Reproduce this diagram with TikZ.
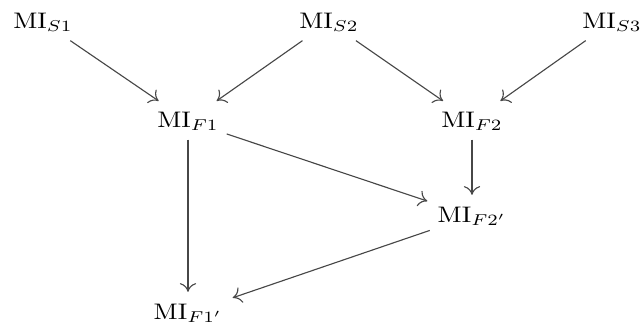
\documentclass[tikz,border=0pt]{standalone}
\usepackage{graphicx}
\usetikzlibrary{arrows.meta}
\begin{document}
\begin{tikzpicture}[x=0.4pt,y=-0.4pt,
  mi/.style={inner xsep=3pt,inner ysep=3.5pt,anchor=base},
  arr/.style={-{To[length=3.5pt,width=6.5pt]},draw=black!72,line width=0.45pt,shorten >=1pt}]
\useasboundingbox (0,0) rectangle (644,335);
\newcommand{\milabel}[1]{\scalebox{1.05}[0.9]{$\mathrm{MI}_{#1}$}}
\node[mi] (s1) at (43,28) {\milabel{S1}};
\node[mi] (s2) at (329,28) {\milabel{S2}};
\node[mi] (s3) at (612,28) {\milabel{S3}};
\node[mi] (f1) at (188,127) {\milabel{F1}};
\node[mi] (f2) at (472,127) {\milabel{F2}};
\node[mi] (f2p) at (472,222) {\milabel{F2'}};
\node[mi] (f1p) at (188,319) {\milabel{F1'}};
\draw[arr] (s1) -- (f1);
\draw[arr] (s2) -- (f1);
\draw[arr] (s2) -- (f2);
\draw[arr] (s3) -- (f2);
\draw[arr] (f1) -- (f1p);
\draw[arr] (f1) -- (f2p);
\draw[arr] (f2) -- (f2p);
\draw[arr] (f2p) -- (f1p);
\end{tikzpicture}
\end{document}
